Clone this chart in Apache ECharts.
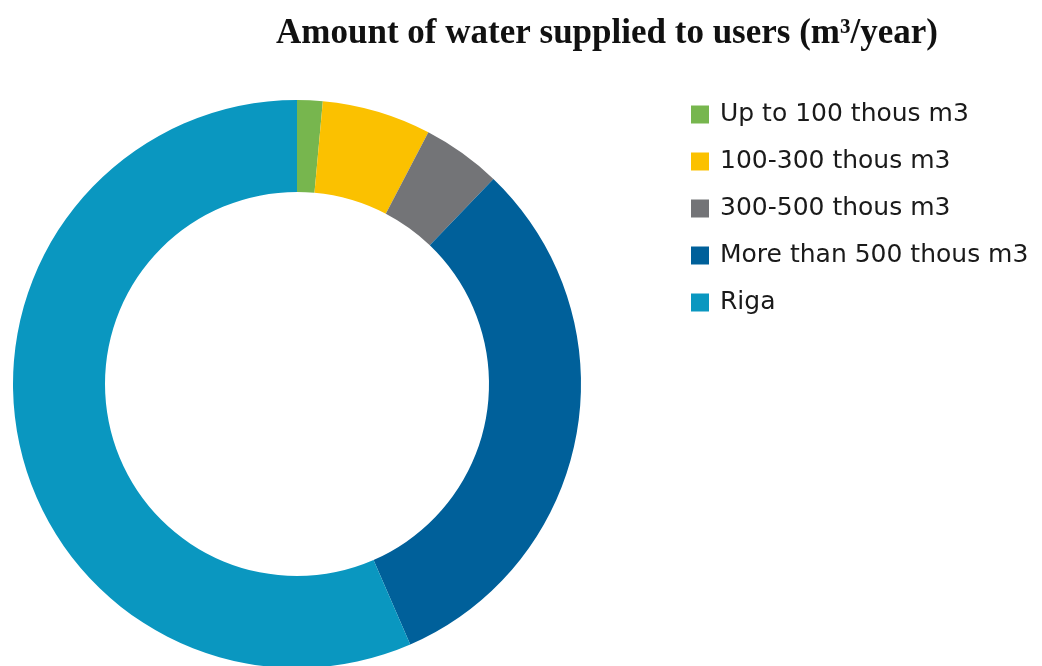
<!DOCTYPE html>
<html>
<head>
<meta charset="utf-8">
<script src="https://cdn.jsdelivr.net/npm/echarts@6/dist/echarts.min.js"></script>
<style>
  html, body { margin: 0; padding: 0; background: #ffffff; }
  #chart { width: 1042px; height: 666px; }
</style>
</head>
<body>
<div id="chart"></div>
<script>
// Water supplied to users by supplier size, share of total (%)
const categories = [
  'Up to 100 thous m3',
  '100-300 thous m3',
  '300-500 thous m3',
  'More than 500 thous m3',
  'Riga'
];
const values = [1.45, 6.2, 4.5, 31.3, 56.5];
const colors = ['#77b64e', '#fbc100', '#737477', '#00609a', '#0a97c0'];

const chart = echarts.init(document.getElementById('chart'), null, { renderer: 'canvas' });

chart.setOption({
  backgroundColor: '#ffffff',
  animation: false,
  title: {
    text: 'Amount of water supplied to users (m³/year)',
    left: 602,
    textAlign: 'center',
    top: 11,
    textStyle: {
      fontFamily: 'Liberation Serif',
      fontWeight: 'bold',
      fontSize: 35,
      color: '#111111'
    }
  },
  legend: {
    orient: 'vertical',
    left: 686,
    top: 97,
    icon: 'rect',
    itemWidth: 18,
    itemHeight: 18,
    itemGap: 22,
    textStyle: {
      fontFamily: 'DejaVu Sans',
      fontSize: 25,
      color: '#1a1a1a',
      padding: [0, 0, 0, 6]
    },
    data: categories
  },
  series: [{
    type: 'pie',
    center: [297, 384],
    radius: [192, 284],
    startAngle: 90,
    clockwise: true,
    label: { show: false },
    labelLine: { show: false },
    emphasis: { disabled: true },
    itemStyle: { borderWidth: 0 },
    data: categories.map((name, i) => ({
      name: name,
      value: values[i],
      itemStyle: { color: colors[i] }
    }))
  }]
});
</script>
</body>
</html>
